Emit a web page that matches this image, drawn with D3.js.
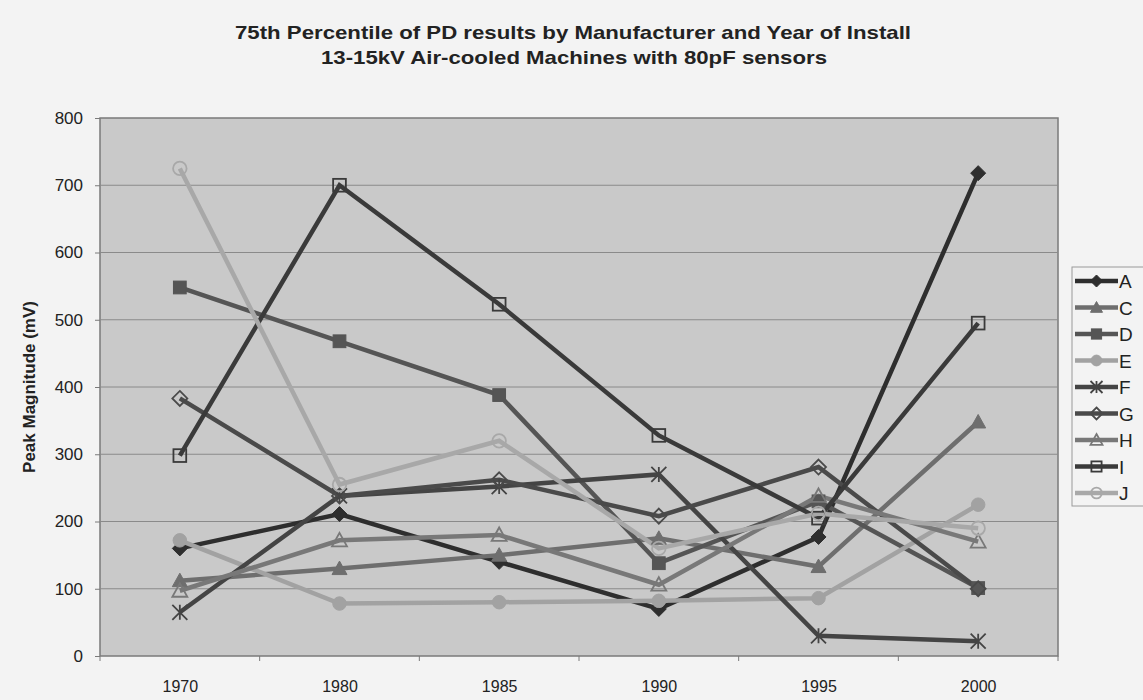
<!DOCTYPE html>
<html><head><meta charset="utf-8">
<script src="https://cdn.jsdelivr.net/npm/d3@7"></script>
<style>body{margin:0;background:#f3f3f3;}svg{display:block;font-family:"Liberation Sans",Arial,sans-serif;}</style>
</head><body><svg id="c" width="1143" height="700"></svg>
<script>
const years = ["1970","1980","1985","1990","1995","2000"];
const yTicks = [0,100,200,300,400,500,600,700,800];
const seriesNames = ["A","C","D","E","F","G","H","I","J"];
const valsA = [160,211,140,70,177,718];
const valsC = [112,130,150,175,133,348];
const valsD = [548,468,388,138,230,101];
const valsE = [172,78,80,82,86,225];
const valsF = [65,238,252,270,30,22];
const valsG = [383,238,262,208,281,100];
const valsH = [97,172,180,106,238,170];
const valsI = [298,700,523,328,205,495];
const valsJ = [725,255,320,160,212,190];
const seriesColors = ["#2e2e2e","#6e6e6e","#555555","#a2a2a2","#444444","#4a4a4a","#787878","#3a3a3a","#a8a8a8"];
const seriesMarkers = ["diamondFill","triangleFill","squareFill","circleFill","star","diamondOpen","triangleOpen","squareOpen","circleOpen"];
const allVals = [valsA,valsC,valsD,valsE,valsF,valsG,valsH,valsI,valsJ];

const svg = d3.select("#c");
const m = {l:100,t:118,r:1058,b:656};
const x = d3.scalePoint().domain(years).range([m.l,m.r]).padding(0.5);
const y = d3.scaleLinear().domain([0,800]).range([m.b,m.t]);

svg.append("rect").attr("x",m.l).attr("y",m.t).attr("width",m.r-m.l).attr("height",m.b-m.t)
  .attr("fill","#c9c9c9").attr("stroke","#7a7a7a").attr("stroke-width",1.5);

svg.append("g").selectAll("line").data(yTicks.slice(1,-1)).join("line")
  .attr("x1",m.l).attr("x2",m.r).attr("y1",d=>y(d)).attr("y2",d=>y(d))
  .attr("stroke","#8a8a8a").attr("stroke-width",1);

const ya = svg.append("g").attr("transform",`translate(${m.l},0)`)
  .call(d3.axisLeft(y).tickValues(yTicks).tickSize(5).tickPadding(12));
ya.select(".domain").remove();
ya.selectAll("line").attr("stroke","#7a7a7a");
ya.selectAll("text").attr("font-size",17).attr("fill","#222").attr("font-family","Liberation Sans, Arial, sans-serif");

const bw = (m.r-m.l)/years.length;
const xa = svg.append("g").attr("transform",`translate(0,${m.b})`)
  .call(d3.axisBottom(x).tickSize(0).tickPadding(25));
xa.select(".domain").remove();
xa.selectAll("text").attr("font-size",16).attr("fill","#222").attr("font-family","Liberation Sans, Arial, sans-serif");
svg.append("g").selectAll("line").data(d3.range(years.length+1)).join("line")
  .attr("x1",i=>m.l+i*bw).attr("x2",i=>m.l+i*bw).attr("y1",m.b).attr("y2",m.b+5).attr("stroke","#7a7a7a");

svg.append("text").attr("x",573).attr("y",39).attr("text-anchor","middle")
  .attr("font-size",19).attr("font-weight","bold").attr("fill","#222")
  .attr("textLength",676).attr("lengthAdjust","spacingAndGlyphs")
  .text("75th Percentile of PD results by Manufacturer and Year of Install");
svg.append("text").attr("x",574).attr("y",64).attr("text-anchor","middle")
  .attr("font-size",19).attr("font-weight","bold").attr("fill","#222")
  .attr("textLength",506).attr("lengthAdjust","spacingAndGlyphs")
  .text("13-15kV Air-cooled Machines with 80pF sensors");
svg.append("text").attr("transform",`translate(35,${(m.t+m.b)/2}) rotate(-90)`)
  .attr("text-anchor","middle").attr("font-size",17).attr("font-weight","bold").attr("fill","#222")
  .text("Peak Magnitude (mV)");

function marker(g, type, color, cx, cy, s){
  const h = s/2;
  const open = type.endsWith("Open");
  const fill = open ? "none" : color;
  const sw = open ? 1.8 : 1;
  if(type.startsWith("diamond")){
    g.append("path").attr("d",`M${cx},${cy-h}L${cx+h},${cy}L${cx},${cy+h}L${cx-h},${cy}Z`)
     .attr("fill",fill).attr("stroke",color).attr("stroke-width",sw);
  } else if(type.startsWith("triangle")){
    g.append("path").attr("d",`M${cx},${cy-h}L${cx+h},${cy+h*0.8}L${cx-h},${cy+h*0.8}Z`)
     .attr("fill",fill).attr("stroke",color).attr("stroke-width",sw);
  } else if(type.startsWith("square")){
    const q = h*0.85;
    g.append("rect").attr("x",cx-q).attr("y",cy-q).attr("width",2*q).attr("height",2*q)
     .attr("fill",fill).attr("stroke",color).attr("stroke-width",sw);
  } else if(type.startsWith("circle")){
    g.append("circle").attr("cx",cx).attr("cy",cy).attr("r",h*0.9)
     .attr("fill",fill).attr("stroke",color).attr("stroke-width",sw);
  } else if(type==="star"){
    const p = h;
    g.append("path").attr("d",`M${cx-p},${cy-p}L${cx+p},${cy+p}M${cx-p},${cy+p}L${cx+p},${cy-p}M${cx},${cy-p}L${cx},${cy+p}`)
     .attr("stroke",color).attr("stroke-width",1.8).attr("fill","none");
  }
}

const line = d3.line().x((d,i)=>x(years[i])).y(d=>y(d));
const lg = svg.append("g");
allVals.forEach((vals,si)=>{
  lg.append("path").datum(vals).attr("d",line).attr("fill","none")
    .attr("stroke",seriesColors[si]).attr("stroke-width",4.5).attr("stroke-linejoin","miter");
});
allVals.forEach((vals,si)=>{
  const g = lg.append("g");
  vals.forEach((v,i)=>{
    marker(g,seriesMarkers[si],seriesColors[si],x(years[i]),y(v),15);
  });
});

// legend
const leg = svg.append("g");
leg.append("rect").attr("x",1072).attr("y",267).attr("width",80).attr("height",239)
  .attr("fill","#f3f3f3").attr("stroke","#9a9a9a");
seriesNames.forEach((n,i)=>{
  const ly = 281 + i*26.5;
  leg.append("line").attr("x1",1075).attr("x2",1118).attr("y1",ly).attr("y2",ly)
    .attr("stroke",seriesColors[i]).attr("stroke-width",4.5);
  marker(leg,seriesMarkers[i],seriesColors[i],1096.5,ly,12);
  leg.append("text").attr("x",1119).attr("y",ly+7).attr("font-size",19).attr("fill","#222").text(n);
});
</script></body></html>
